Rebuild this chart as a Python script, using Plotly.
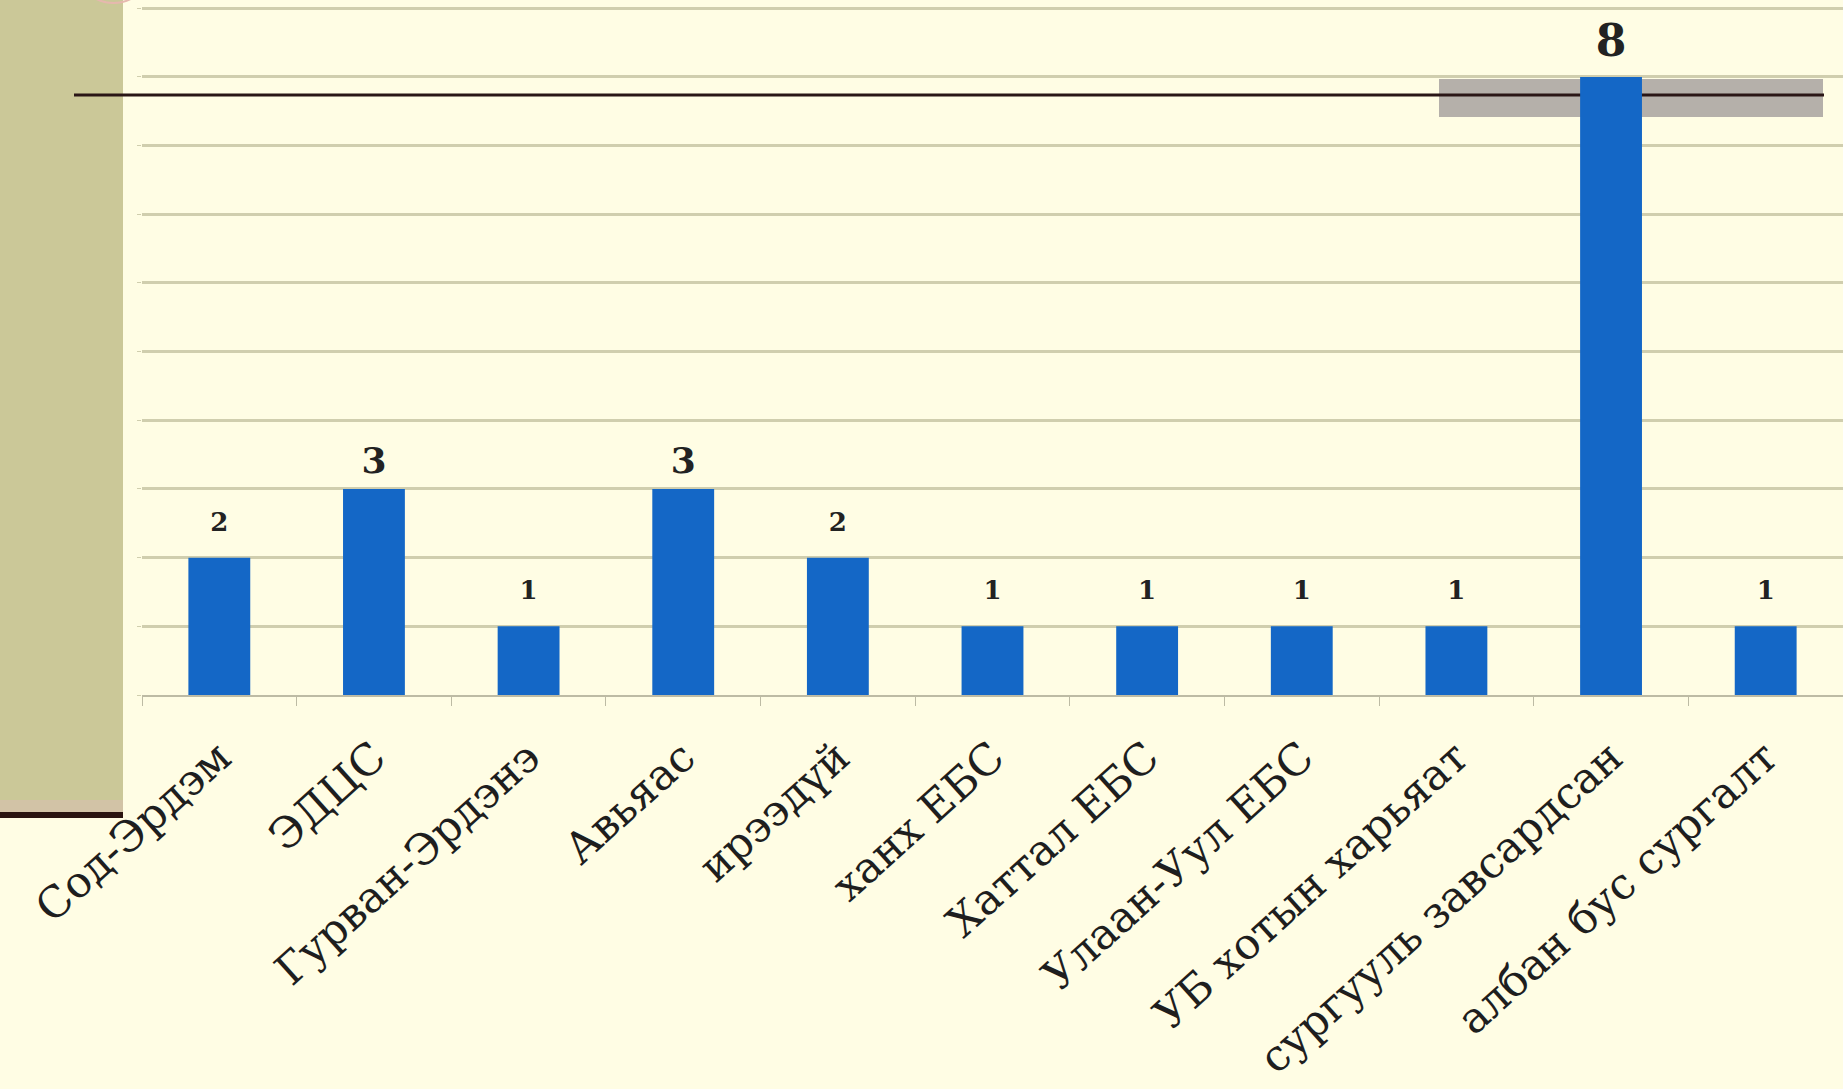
import plotly.graph_objects as go

categories = ["Сод-Эрдэм", "ЭДЦС", "Гурван-Эрдэнэ", "Авьяас", "ирээдүй",
              "ханх ЕБС", "Хаттал ЕБС", "Улаан-Уул ЕБС", "УБ хотын харьяат",
              "сургууль завсардсан", "албан бус сургалт"]
bar_heights = [2, 3, 1, 3, 2, 1, 1, 1, 1, 9, 1]
value_labels = ["2", "3", "1", "3", "2", "1", "1", "1", "1", "8", "1"]
y_ticks = [0, 1, 2, 3, 4, 5, 6, 7, 8, 9, 10]

CREAM = "#FFFDE4"
OLIVE = "#CBC898"
BLUE = "#1467C6"
GRID = "#D0CEAE"
FONT = "DejaVu Serif"

# old-style figure look: ascender/descender digits larger than x-height digits
size_map = {"1": 26, "2": 26, "3": 36, "8": 44}
gap_map = {"1": 31, "2": 31, "3": 10, "8": 14}
label_sizes = [size_map.get(s, 28) for s in value_labels]
label_gaps = [gap_map.get(s, 20) for s in value_labels]

fig = go.Figure()
fig.add_trace(go.Bar(
    x=categories, y=bar_heights,
    marker=dict(color=BLUE, line=dict(width=0)),
    hoverinfo="skip",
))
fig.add_trace(go.Scatter(
    x=categories, y=bar_heights, mode="markers+text",
    text=value_labels, textposition="top center",
    textfont=dict(family=FONT, size=label_sizes, color="#222222", weight="bold"),
    marker=dict(size=label_gaps, opacity=0),
    cliponaxis=False, hoverinfo="skip",
))

W = 1701
shapes = [
    # left olive panel
    dict(type="rect", xref="paper", yref="paper", x0=-142 / W, x1=-19 / W,
         y0=(695 - 812) / 695, y1=1.2, fillcolor=OLIVE,
         line=dict(width=0), layer="below"),
    # pinkish band at panel bottom
    dict(type="rect", xref="paper", yref="paper", x0=-142 / W, x1=-19 / W,
         y0=(695 - 812) / 695, y1=(695 - 800) / 695, fillcolor="#D2C3A6",
         line=dict(width=0), layer="below"),
    # gray rectangle at top right
    dict(type="rect", xref="paper", yref="paper", x0=(1439 - 142) / W, x1=(1823 - 142) / W,
         y0=(695 - 117) / 695, y1=(695 - 79) / 695, fillcolor="#B5B0AA",
         line=dict(width=0), layer="between"),
    # black horizontal line at top
    dict(type="line", xref="paper", yref="paper", x0=(74 - 142) / W, x1=(1824 - 142) / W,
         y0=(695 - 95) / 695, y1=(695 - 95) / 695,
         line=dict(color="#2A1616", width=3), layer="between"),
    # black line under panel
    dict(type="line", xref="paper", yref="paper", x0=-142 / W, x1=-19 / W,
         y0=(695 - 815) / 695, y1=(695 - 815) / 695,
         line=dict(color="#2A1410", width=6), layer="above"),
    # pinkish arc at top-left
    dict(type="circle", xref="paper", yref="paper", x0=(75 - 142) / W, x1=(152 - 142) / W,
         y0=(695 - 3) / 695, y1=(695 + 75) / 695,
         line=dict(color="#E6B8AE", width=2), fillcolor="rgba(0,0,0,0)", layer="above"),
]

fig.update_layout(
    width=1843, height=1089,
    margin=dict(l=142, r=0, t=0, b=394, autoexpand=False),
    paper_bgcolor=CREAM, plot_bgcolor=CREAM,
    showlegend=False,
    bargap=0.6,
    shapes=shapes,
    xaxis=dict(
        range=[-0.5, len(categories) - 0.5],
        automargin=False,
        tickangle=-42,
        tickfont=dict(family=FONT, size=43, color="#1E1E1E"),
        ticklabelstandoff=18,
        showline=True, linecolor="#BDBBA4", linewidth=2,
        ticks="outside", tickson="boundaries", ticklen=9, tickcolor="#BDBBA4",
        showgrid=False, zeroline=False,
    ),
    yaxis=dict(
        range=[0, 10.12], tickvals=y_ticks, showticklabels=False,
        automargin=False,
        showgrid=True, gridcolor=GRID, gridwidth=3,
        ticks="outside", ticklen=4, tickcolor=GRID,
        zeroline=False, showline=False,
    ),
)

fig.write_html("out.html", config={"displayModeBar": False},
               post_script="document.body.style.margin='0';")
